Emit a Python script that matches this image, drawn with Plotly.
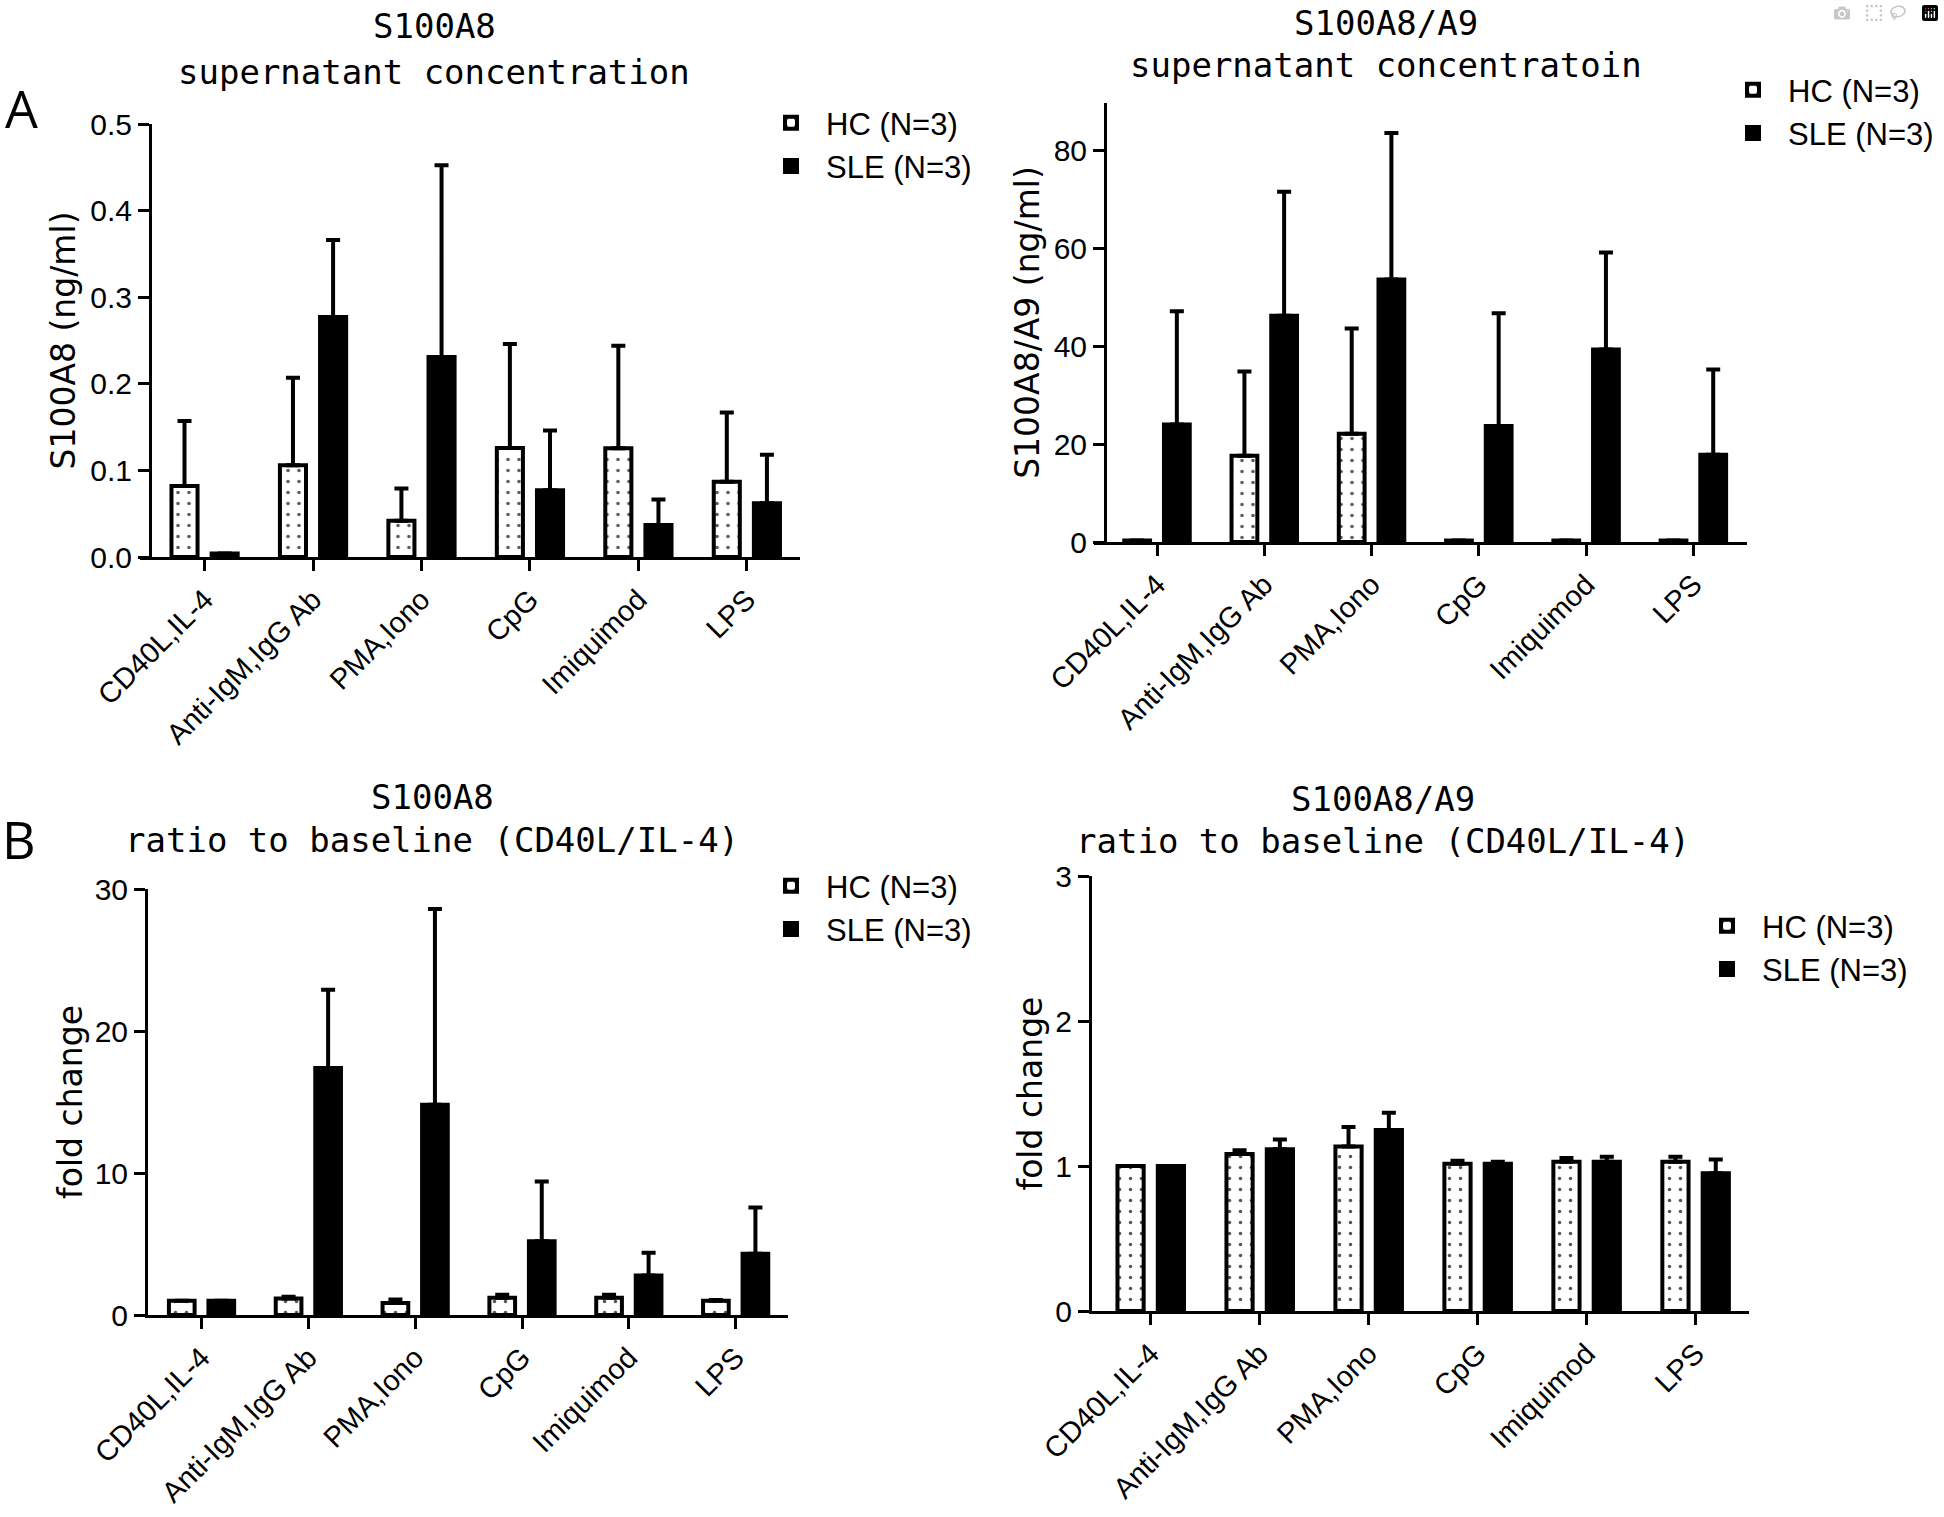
import plotly.graph_objects as go

W, H = 1944, 1517

# ---------------- data ----------------
categories = ["CD40L,IL-4", "Anti-IgM,IgG Ab", "PMA,Iono", "CpG", "Imiquimod", "LPS"]
series_names = ["HC (N=3)", "SLE (N=3)"]

# A (left): S100A8 supernatant concentration (ng/ml)
a8_conc_hc = [0.082, 0.106, 0.042, 0.126, 0.1255, 0.087]
a8_conc_hc_err = [0.075, 0.101, 0.037, 0.120, 0.1185, 0.080]
a8_conc_sle = [0.004, 0.277, 0.231, 0.077, 0.037, 0.062]
a8_conc_sle_err = [0.0, 0.089, 0.2215, 0.069, 0.0295, 0.056]

# A (right): S100A8/A9 supernatant concentration (ng/ml)
a89_conc_hc = [0.3, 17.6, 22.1, 0.3, 0.3, 0.3]
a89_conc_hc_err = [0.0, 17.2, 21.5, 0.0, 0.0, 0.0]
a89_conc_sle = [24.0, 46.2, 53.6, 23.7, 39.3, 17.8]
a89_conc_sle_err = [23.1, 25.3, 29.9, 23.0, 19.8, 17.4]

# B (left): S100A8 ratio to baseline
a8_ratio_hc = [1.0, 1.16, 0.84, 1.21, 1.21, 1.0]
a8_ratio_hc_err = [0.0, 0.13, 0.26, 0.22, 0.22, 0.05]
a8_ratio_sle = [1.0, 17.4, 14.8, 5.2, 2.78, 4.31]
a8_ratio_sle_err = [0.0, 5.5, 13.8, 4.2, 1.61, 3.26]

# B (right): S100A8/A9 ratio to baseline
a89_ratio_hc = [1.0, 1.082, 1.135, 1.016, 1.029, 1.029]
a89_ratio_hc_err = [0.0, 0.026, 0.134, 0.021, 0.026, 0.034]
a89_ratio_sle = [1.0, 1.116, 1.248, 1.016, 1.029, 0.95]
a89_ratio_sle_err = [0.0, 0.066, 0.119, 0.013, 0.034, 0.095]

a8_conc_ticks = [0.0, 0.1, 0.2, 0.3, 0.4, 0.5]
a89_conc_ticks = [0, 20, 40, 60, 80]
a8_ratio_ticks = [0, 10, 20, 30]
a89_ratio_ticks = [0, 1, 2, 3]

# ---------------- styling helpers ----------------
ARIAL = "Liberation Sans, Arial, sans-serif"
MONO = "DejaVu Sans Mono, monospace"
WIDE = "DejaVu Sans, Verdana, sans-serif"
LEG_ITEMW = 60


def fx(p):
    return p / W


def fy(p):
    return 1 - p / H


panels = [
    dict(xa="x", ya="y", leg="legend",
         hc=a8_conc_hc, hce=a8_conc_hc_err, sle=a8_conc_sle, slee=a8_conc_sle_err,
         ticks=a8_conc_ticks, tickfmt=".1f", yr=[0, 0.5],
         xdom=(139.5, 800), xr=[-0.60, 5.49], ydom=(557, 124), yfree=150,
         ytitle="S100A8 (ng/ml)",
         t1="S100A8", t2="supernatant concentration", tx=434, ty1=26, ty2=72,
         legtext=826, legy=96),
    dict(xa="x2", ya="y2", leg="legend2",
         hc=a89_conc_hc, hce=a89_conc_hc_err, sle=a89_conc_sle, slee=a89_conc_sle_err,
         ticks=a89_conc_ticks, tickfmt="d", yr=[0, 89.6],
         xdom=(1093.5, 1747), xr=[-0.592, 5.50], ydom=(542, 103), yfree=1105,
         ytitle="S100A8/A9 (ng/ml)",
         t1="S100A8/A9", t2="supernatant concentratoin", tx=1386, ty1=23, ty2=65,
         legtext=1788, legy=63),
    dict(xa="x3", ya="y3", leg="legend3",
         hc=a8_ratio_hc, hce=a8_ratio_hc_err, sle=a8_ratio_sle, slee=a8_ratio_sle_err,
         ticks=a8_ratio_ticks, tickfmt="d", yr=[0, 30],
         xdom=(148, 788), xr=[-0.501, 5.49], ydom=(1315, 889), yfree=None,
         ytitle="fold change",
         t1="S100A8", t2="ratio to baseline (CD40L/IL-4)", tx=432, ty1=797, ty2=840,
         legtext=826, legy=859),
    dict(xa="x4", ya="y4", leg="legend4",
         hc=a89_ratio_hc, hce=a89_ratio_hc_err, sle=a89_ratio_sle, slee=a89_ratio_sle_err,
         ticks=a89_ratio_ticks, tickfmt="d", yr=[0, 3],
         xdom=(1092, 1749), xr=[-0.539, 5.49], ydom=(1311, 876), yfree=None,
         ytitle="fold change",
         t1="S100A8/A9", t2="ratio to baseline (CD40L/IL-4)", tx=1383, ty1=799, ty2=841,
         legtext=1762, legy=899),
]

fig = go.Figure()
layout = dict(
    template="none",
    width=W, height=H,
    margin=dict(l=0, r=0, t=0, b=0, pad=0, autoexpand=False),
    paper_bgcolor="white", plot_bgcolor="white",
    barmode="group", bargap=0.26, bargroupgap=0.35,
    font=dict(family=ARIAL, color="black"),
    showlegend=True,
)
annotations = []

for p in panels:
    zeros = [0.0] * len(categories)
    fig.add_trace(go.Bar(
        x=categories, y=p["hc"], name=series_names[0],
        xaxis=p["xa"], yaxis=p["ya"], legend=p["leg"],
        marker=dict(color="white", line=dict(color="black", width=4),
                    pattern=dict(shape=".", fgcolor="#555555", bgcolor="white",
                                 size=11, solidity=0.08, fillmode="replace")),
        error_y=dict(type="data", symmetric=False, array=p["hce"], arrayminus=zeros,
                     color="black", thickness=4, width=7),
    ))
    fig.add_trace(go.Bar(
        x=categories, y=p["sle"], name=series_names[1],
        xaxis=p["xa"], yaxis=p["ya"], legend=p["leg"],
        marker=dict(color="black", line=dict(color="black", width=4)),
        error_y=dict(type="data", symmetric=False, array=p["slee"], arrayminus=zeros,
                     color="black", thickness=4, width=7),
    ))

    xkey = "xaxis" + p["xa"][1:]
    ykey = "yaxis" + p["ya"][1:]
    layout[xkey] = dict(
        domain=[fx(p["xdom"][0]), fx(p["xdom"][1])], range=p["xr"], anchor=p["ya"],
        type="category", categoryorder="array", categoryarray=categories,
        showline=True, linecolor="black", linewidth=3, automargin=False,
        ticks="outside", ticklen=11, tickwidth=3, tickcolor="black",
        tickangle=-45, tickfont=dict(family=ARIAL, size=29, color="black"),
        showgrid=False, zeroline=False, fixedrange=True,
    )
    ycfg = dict(
        domain=[fy(p["ydom"][0]), fy(p["ydom"][1])], range=p["yr"],
        tickmode="array", tickvals=p["ticks"], tickformat=p["tickfmt"],
        showline=True, linecolor="black", linewidth=3, automargin=False,
        ticks="outside", ticklen=11, tickwidth=3, tickcolor="black",
        tickfont=dict(family=ARIAL, size=30, color="black"),
        showgrid=False, zeroline=False, fixedrange=True,
        title=dict(text=p["ytitle"], font=dict(family=WIDE, size=33, color="black"), standoff=3),
    )
    if p["yfree"] is not None:
        ycfg["anchor"] = "free"
        ycfg["position"] = fx(p["yfree"])
    else:
        ycfg["anchor"] = p["xa"]
    layout[ykey] = ycfg

    layout[p["leg"]] = dict(
        x=fx(p["legtext"] - LEG_ITEMW - 10), y=fy(p["legy"]), xanchor="left", yanchor="top",
        bgcolor="rgba(0,0,0,0)", borderwidth=0, itemwidth=LEG_ITEMW,
        font=dict(family=ARIAL, size=31, color="black"),
        traceorder="normal", itemclick=False, itemdoubleclick=False,
    )

    for txt, yy in ((p["t1"], p["ty1"]), (p["t2"], p["ty2"])):
        annotations.append(dict(
            text=txt, x=fx(p["tx"]), y=fy(yy), xref="paper", yref="paper",
            xanchor="center", yanchor="middle", showarrow=False,
            font=dict(family=MONO, size=34, color="black"),
        ))

annotations.append(dict(text="A", x=fx(21), y=fy(107), xref="paper", yref="paper",
                        xanchor="center", yanchor="middle", showarrow=False,
                        font=dict(family="Open Sans, sans-serif", size=52, color="black")))
annotations.append(dict(text="B", x=fx(19), y=fy(838), xref="paper", yref="paper",
                        xanchor="center", yanchor="middle", showarrow=False,
                        font=dict(family="Open Sans, sans-serif", size=52, color="black")))

layout["annotations"] = annotations
fig.update_layout(**layout)

fig.write_html("out.html", include_plotlyjs=True,
               post_script="document.body.style.margin='0';document.body.style.overflow='hidden';")
